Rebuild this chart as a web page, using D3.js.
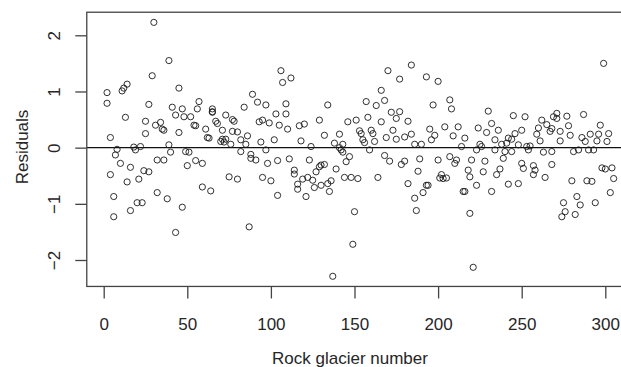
<!DOCTYPE html>
<html>
<head>
<meta charset="utf-8">
<script src="https://cdn.jsdelivr.net/npm/d3@7"></script>
<style>
  html, body { margin: 0; padding: 0; background: #fff; overflow: hidden; }
  svg { display: block; font-family: 'Liberation Sans', Arial, sans-serif; }
</style>
</head>
<body>
<svg id="chart" width="621" height="367"></svg>
<script>
// rock glacier number (x) and model residual (y)
const glacierNumber = [
  2, 2, 4, 4, 6, 6, 7, 8, 10, 11, 12, 13, 14, 14, 16, 16, 18, 19, 20, 21, 22, 23, 24, 25, 25, 27, 27, 29, 30, 31, 32, 32, 34, 35, 36, 36, 38, 39, 39, 40, 41, 43, 43, 45, 45, 47, 47, 48,
  49, 50, 51, 52, 54, 55, 55, 56, 57, 59, 59, 61, 62, 63, 64, 65, 65, 65, 67, 68, 70, 71, 71, 72, 73, 73, 75, 76, 77, 77, 78, 80, 80, 82, 82, 84, 85, 86, 87, 88, 88, 89, 91, 92, 93, 94, 95, 95, 97, 97, 98, 99, 100,
  102, 103, 104, 104, 105, 106, 107, 109, 109, 110, 111, 112, 114, 114, 116, 116, 117, 118, 119, 120, 121, 122, 123, 124, 125, 126, 127, 129, 129, 130, 130, 132, 132, 134, 134, 135, 136, 137, 138, 139, 141, 141, 142, 143, 143, 144, 145, 146, 147, 148, 149, 150, 151,
  152, 153, 154, 155, 156, 157, 158, 159, 160, 161, 162, 163, 164, 166, 166, 168, 168, 169, 170, 171, 172, 173, 175, 175, 177, 177, 178, 180, 180, 182, 182, 184, 184, 186, 186, 187, 188, 189, 190, 191, 193, 193, 194, 195, 196, 197, 198, 200, 200, 201,
  202, 203, 204, 205, 207, 207, 208, 209, 210, 211, 212, 214, 215, 216, 216, 218, 219, 219, 220, 221, 223, 223, 224, 225, 226, 227, 228, 229, 230, 232, 232, 234, 234, 235, 236, 237, 238, 239, 240, 241, 242, 242, 244, 244, 245, 246, 248, 248, 250, 250, 251, 252, 253,
  254, 255, 257, 257, 258, 259, 260, 261, 262, 263, 264, 265, 267, 268, 268, 268, 269, 271, 271, 273, 273, 274, 275, 276, 277, 278, 279, 280, 281, 282, 283, 284, 285, 286, 287, 288, 289, 290, 291, 292, 293, 294, 295, 296, 297, 298, 299, 300, 301, 302, 303, 304, 305
];
const residuals = [
  0.79, 0.98, 0.18, -0.48, -1.23, -0.87, -0.13, -0.03, -0.28, 1.01, 1.06, 0.54, 1.13, -0.61, -1.12, -0.35, 0.01, -0.04, -0.98, -0.56, 0.02, -0.98, -0.41, 0.25, 0.47, 0.77, -0.43, 1.28, 2.23, 0.40, -0.22, -0.80, 0.45, 0.33, 0.31, -0.22, -0.91, 1.55, 0.05, -0.08, 0.72, 0.58, -1.51, 0.27, 1.06, 0.69, -1.06, 0.55,
  -0.07, -0.32, -0.08, 0.55, 0.40, 0.39, -0.23, 0.69, 0.82, -0.28, -0.70, 0.33, 0.18, 0.17, -0.77, 0.63, 0.69, 0.64, 0.47, 0.43, 0.11, 0.15, 0.31, 0.10, 0.58, 0.15, -0.52, 0.06, 0.50, 0.29, 0.47, -0.56, 0.28, 0.14, -0.07, 0.72, 0.06, 0.21, -1.41, -0.19, -0.12, 0.95, -0.22, 0.81, 0.46, 0.10, -0.53, 0.49, -0.04, 0.76, -0.28, 0.44, -0.59,
  0.14, 0.60, -0.85, -0.23, 0.40, 1.37, 1.16, 0.78, 0.60, 0.33, -0.20, 1.24, -0.40, -0.47, -0.74, -0.65, 0.39, 0.12, -0.56, 0.42, -0.87, -0.53, -0.22, 0.02, -0.58, -0.71, -0.43, -0.34, 0.49, -0.31, -0.67, -0.30, 0.22, 0.76, -0.64, -0.78, -0.59, -2.29, 0.08, -0.38, 0.24, 0.00, -0.04, 0.06, -0.08, -0.53, -0.25, 0.46, -0.16, -0.53, -1.72, -1.14, 0.49,
  -0.55, 0.30, 0.25, 0.14, 0.09, 0.82, 0.54, -0.04, 0.31, 0.25, 0.11, 0.75, -0.53, 0.46, 1.02, 0.84, -0.14, 0.18, 1.37, -0.24, 0.63, 0.31, 0.15, 0.52, 0.64, 1.22, -0.30, -0.24, 0.19, -0.64, 0.47, 0.24, 1.47, -0.90, 0.06, -1.12, -0.42, -0.20, 0.06, -0.80, 1.26, -0.67, -0.67, 0.33, 0.14, 0.76, 0.22, -0.22, 1.18, -0.54,
  -0.48, -0.55, 0.37, -0.54, 0.85, -0.16, 0.69, 0.21, -0.28, -0.22, 0.37, 0.02, -0.78, 0.17, -0.78, -0.40, -0.52, -1.17, -0.22, -2.13, -0.67, -0.04, 0.35, 0.06, 0.02, -0.43, -0.24, 0.27, 0.65, 0.43, -0.78, -0.04, 0.14, -0.48, 0.31, -0.38, 0.06, -0.19, -0.07, 0.08, 0.17, -0.65, 0.15, -0.07, 0.57, 0.25, -0.64, 0.05, 0.31, -0.28, -0.37, 0.55, 0.02,
  -0.04, 0.03, -0.32, -0.48, -0.40, 0.24, 0.35, 0.12, 0.49, -0.08, -0.53, 0.41, 0.29, -0.07, 0.34, -0.30, 0.55, 0.52, 0.61, 0.12, 0.29, -1.23, -0.98, -1.14, 0.56, 0.39, 0.22, -0.59, -0.07, -1.19, -0.87, -0.04, -1.02, 0.18, 0.59, 0.11, -0.59, -0.04, 0.24, -0.60, -0.04, -0.98, 0.12, 0.24, 0.40, -0.36, 1.50, -0.38, 0.11, 0.25, -0.80, -0.36, -0.55
];
const xTicks = [0, 50, 100, 150, 200, 250, 300];
const yTicks = [-2, -1, 0, 1, 2];
const xTitle = 'Rock glacier number';
const yTitle = 'Residuals';

const points = glacierNumber.map((n, i) => ({ n: n, r: residuals[i] }));

const svg = d3.select('#chart');
const ink = '#262626';
const fontSize = 17;

// R-style 4% padding around the data range
const pad = (lo, hi) => [lo - 0.04 * (hi - lo), hi + 0.04 * (hi - lo)];
const xDom = pad(d3.min(points, d => d.n), d3.max(points, d => d.n));
const yDom = pad(d3.min(points, d => d.r), d3.max(points, d => d.r));

const x = d3.scaleLinear().domain([0, 300]).range([103.7, 605.3]);
const y = d3.scaleLinear().domain([-2, 2]).range([260, 35.3]);

const box = { left: x(xDom[0]), right: x(xDom[1]), top: y(yDom[1]), bottom: y(yDom[0]) };

// zero reference line
svg.append('line')
  .attr('x1', box.left).attr('x2', box.right)
  .attr('y1', y(0)).attr('y2', y(0))
  .attr('stroke', '#111')
  .attr('stroke-width', 1.1);

svg.append('g')
  .selectAll('circle')
  .data(points)
  .enter().append('circle')
  .attr('cx', d => x(d.n))
  .attr('cy', d => y(d.r))
  .attr('r', 3.1)
  .attr('fill', 'none')
  .attr('stroke', '#1a1a1a')
  .attr('stroke-width', 0.9);

svg.append('rect')
  .attr('x', box.left).attr('y', box.top)
  .attr('width', box.right - box.left)
  .attr('height', box.bottom - box.top)
  .attr('fill', 'none')
  .attr('stroke', '#444')
  .attr('stroke-width', 1.3);

const xAxis = svg.append('g')
  .attr('transform', `translate(0,${box.bottom})`)
  .call(d3.axisBottom(x).tickValues(xTicks).tickSize(12).tickPadding(19).tickFormat(d3.format('d')));
xAxis.select('.domain').remove();
xAxis.selectAll('line').attr('stroke', '#444').attr('stroke-width', 1.3);
xAxis.selectAll('text')
  .attr('fill', ink)
  .style('font-size', fontSize + 'px')
  .style('font-family', "'Liberation Sans', Arial, sans-serif");

const yAxis = svg.append('g')
  .attr('transform', `translate(${box.left},0)`)
  .call(d3.axisLeft(y).tickValues(yTicks).tickSize(11.5).tickFormat(d3.format('d')));
yAxis.select('.domain').remove();
yAxis.selectAll('line').attr('stroke', '#444').attr('stroke-width', 1.3);
yAxis.selectAll('text')
  .attr('x', null)
  .attr('dy', null)
  .attr('text-anchor', 'middle')
  .attr('transform', `translate(${59.5 - box.left},0) rotate(-90)`)
  .attr('fill', ink)
  .style('font-size', fontSize + 'px')
  .style('font-family', "'Liberation Sans', Arial, sans-serif");

svg.append('text')
  .attr('x', 350)
  .attr('y', 364)
  .attr('text-anchor', 'middle')
  .attr('fill', ink)
  .style('font-size', fontSize + 'px')
  .text(xTitle);

svg.append('text')
  .attr('transform', `translate(27.5,147) rotate(-90)`)
  .attr('text-anchor', 'middle')
  .attr('fill', ink)
  .style('font-size', fontSize + 'px')
  .text(yTitle);
</script>
</body>
</html>
